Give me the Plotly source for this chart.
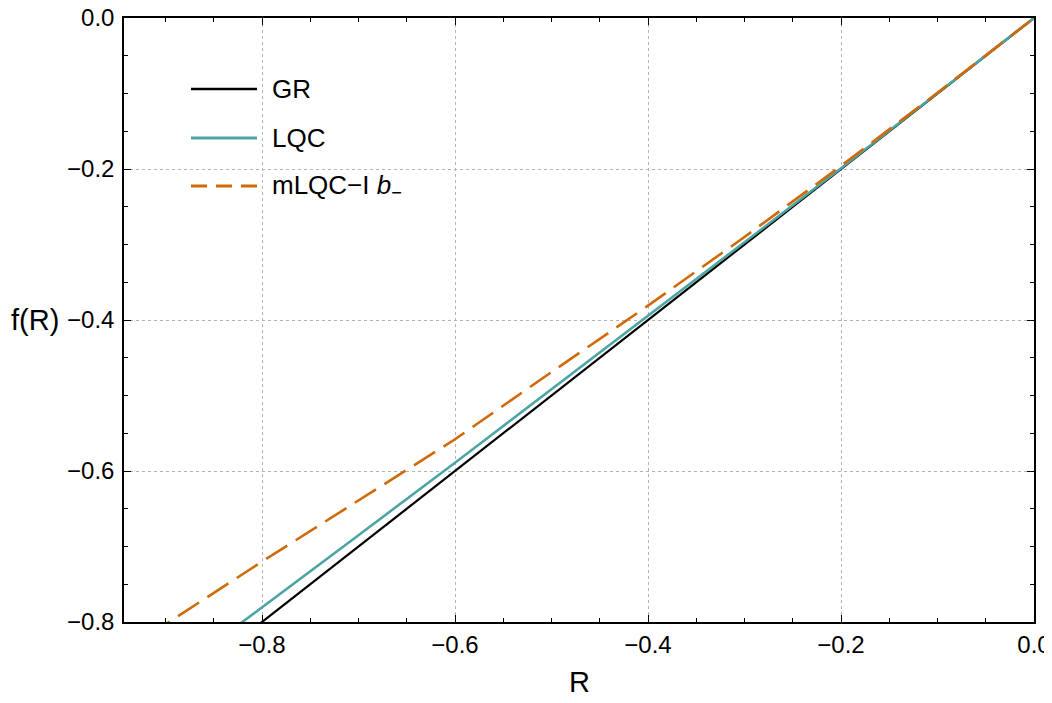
import plotly.graph_objects as go

# values
r_gr = [-0.9, -0.8, -0.7, -0.6, -0.5, -0.4, -0.3, -0.2, -0.1, 0.0]
f_gr = [-0.9, -0.8, -0.7, -0.6, -0.5, -0.4, -0.3, -0.2, -0.1, 0.0]

r_lqc = [-0.9, -0.82, -0.8, -0.7, -0.6, -0.5, -0.4, -0.3, -0.2, -0.1, 0.0]
f_lqc = [-0.876, -0.800, -0.780, -0.685, -0.589, -0.492, -0.395, -0.297, -0.199, -0.100, 0.0]

r_mlqc = [-0.95, -0.9, -0.8, -0.7, -0.6, -0.5, -0.4, -0.3, -0.2, -0.1, 0.0]
f_mlqc = [-0.838, -0.803, -0.720, -0.639, -0.558, -0.469, -0.381, -0.290, -0.196, -0.099, 0.0]

names = ['GR', 'LQC', 'mLQC−I <i>b</i><sub>−</sub>']
colors = ['#000000', '#4da6a5', '#cf6a06']

# page body has an 8px margin, so the figure is a bit smaller than the window
W, H = 1044, 695
L, R_, T, B = 116, 18, 10, 81
top_px = 8 + T   # plot top in page pixels

fig = go.Figure()
fig.add_trace(go.Scatter(x=r_gr, y=f_gr, mode='lines', name=names[0],
                         line=dict(color=colors[0], width=2.2)))
fig.add_trace(go.Scatter(x=r_lqc, y=f_lqc, mode='lines', name=names[1],
                         line=dict(color=colors[1], width=2.6)))
fig.add_trace(go.Scatter(x=r_mlqc, y=f_mlqc, mode='lines', name=names[2],
                         line=dict(color=colors[2], width=2.6, dash='25px,10px')))

axis_common = dict(
    automargin=False, ticklabeloverflow='allow',
    showline=True, linecolor='black', linewidth=1.5, mirror='ticks',
    ticks='inside', ticklen=7, tickwidth=1.2, tickcolor='black',
    showgrid=True, gridcolor='#b3b3b3', gridwidth=1, griddash='dot',
    zeroline=False, tickformat='.1f', dtick=0.2, tick0=0,
    tickfont=dict(family='Liberation Sans', size=24, color='black'),
    minor=dict(ticks='inside', ticklen=4, tickwidth=1.2, tickcolor='black',
               dtick=0.05, showgrid=False),
)

fig.update_xaxes(range=[-0.943, 0], **axis_common)
fig.update_yaxes(range=[-0.8, 0], ticklabelstandoff=3, **axis_common)

# page-pixel positions -> paper coords
def px_x(p):
    return (p - 124) / 910

def px_y(p):
    return (622 - p) / (622 - top_px)

# hand-drawn legend inside the plot, top left
leg_y = [89, 138, 186]
dashes = ['solid', 'solid', '16px,9px']
widths = [2.6, 3.0, 3.0]
for i in range(3):
    fig.add_shape(type='line', xref='paper', yref='paper',
                  x0=px_x(191), x1=px_x(257), y0=px_y(leg_y[i]), y1=px_y(leg_y[i]),
                  line=dict(color=colors[i], width=widths[i], dash=dashes[i]))
    fig.add_annotation(xref='paper', yref='paper', x=px_x(270), y=px_y(leg_y[i]),
                       text=names[i], showarrow=False, xanchor='left', yanchor='middle',
                       font=dict(family='Liberation Sans', size=26, color='black'))

fig.add_annotation(xref='paper', yref='paper', x=0.5, y=px_y(682), text='R',
                   showarrow=False, xanchor='center', yanchor='middle',
                   font=dict(family='Liberation Sans', size=29, color='black'))
fig.add_annotation(xref='paper', yref='paper', x=px_x(9), y=px_y(320), text='f(R)',
                   showarrow=False, xanchor='left', yanchor='middle',
                   font=dict(family='Liberation Sans', size=29, color='black'))

fig.update_layout(width=W, height=H, showlegend=False,
                  margin=dict(l=L, r=R_, t=T, b=B),
                  plot_bgcolor='white', paper_bgcolor='white')

fig.write_html("out.html")
